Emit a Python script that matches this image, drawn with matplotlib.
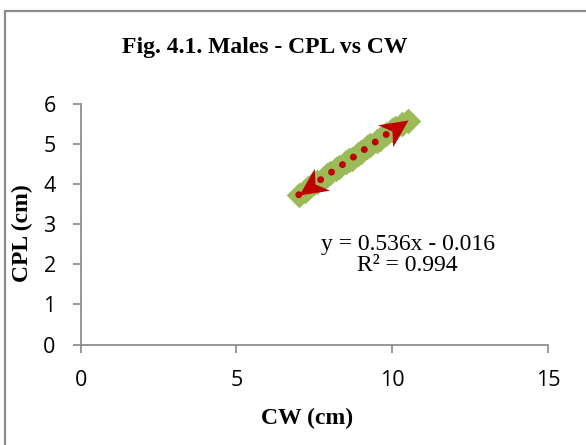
import numpy as np
import matplotlib.pyplot as plt
from matplotlib.patches import Rectangle
from matplotlib.path import Path
from matplotlib.markers import MarkerStyle
from matplotlib.transforms import Affine2D

# --- data ---
cw = [7.0, 7.2, 7.3, 7.5, 7.6, 7.8, 7.9, 8.0, 8.2, 8.3, 8.5, 8.6, 8.7,
      8.9, 9.0, 9.2, 9.3, 9.5, 9.6, 9.8, 10.0, 10.1, 10.3, 10.5]
cpl = [3.72, 3.84, 3.90, 4.02, 4.06, 4.16, 4.22, 4.27, 4.38, 4.44, 4.55, 4.60, 4.64,
       4.76, 4.81, 4.92, 4.98, 5.08, 5.13, 5.24, 5.34, 5.40, 5.50, 5.58]
slope, intercept = 0.536, -0.016
r2 = 0.994

xticks = [0, 5, 10, 15]
yticks = [0, 1, 2, 3, 4, 5, 6]

axis_grey = "#868686"
green = "#9BBB59"
red = "#C00000"
serif = "Liberation Serif"
sans = "Open Sans"

fig = plt.figure(figsize=(5.86, 4.45), dpi=100)
ax = fig.add_axes([0.1377, 0.2258, 0.7975, 0.5405])
ax.set_xlim(0, 15)
ax.set_ylim(0, 6)

# outer chart frame
fig.patches.append(Rectangle((5 / 586, -0.1), 1.2, 1.1 - 11 / 445,
                             transform=fig.transFigure, fill=False,
                             edgecolor="#8c8c8c", linewidth=1.6))

ax.scatter(cw, cpl, marker="D", s=170, color=green, linewidths=0, zorder=2)

# linear trendline, arrowheads at both ends
x_fit = np.array([min(cw), max(cw)])
y_fit = slope * x_fit + intercept
ax.plot(x_fit, y_fit, linestyle=(0, (0.01, 1.9)), dash_capstyle="round",
        color=red, linewidth=5, zorder=3)

# notched ("stealth") head, tip at origin pointing to +x
head = Path([(0, 0), (-1, 0.48), (-0.7, 0), (-1, -0.48), (0, 0)],
            [Path.MOVETO, Path.LINETO, Path.LINETO, Path.LINETO, Path.CLOSEPOLY])
p0, p1 = ax.transData.transform([(x_fit[0], y_fit[0]), (x_fit[1], y_fit[1])])
ang = np.degrees(np.arctan2(p1[1] - p0[1], p1[0] - p0[0]))
for i, a in [(0, ang + 180), (1, ang)]:
    ms = MarkerStyle(head, transform=Affine2D().rotate_deg(a))
    ax.plot(x_fit[i], y_fit[i], marker=ms, markersize=40, color=red,
            markeredgewidth=0, linestyle="none", zorder=4)

ax.text(10.49, 2.23, f"y = {slope:.3f}x - {abs(intercept):.3f}\nR² = {r2:.3f}",
        ha="center", va="center", fontsize=17, family=serif, linespacing=1.0)

ax.set_xticks(xticks)
ax.set_yticks(yticks)
for s in ["top", "right"]:
    ax.spines[s].set_visible(False)
for s in ["left", "bottom"]:
    ax.spines[s].set_color(axis_grey)
    ax.spines[s].set_linewidth(1.2)
ax.tick_params(direction="out", length=6, color=axis_grey, width=1.2,
               labelsize=15.5)
ax.tick_params(axis="x", pad=12)
ax.tick_params(axis="y", pad=12)
for lab in ax.get_xticklabels() + ax.get_yticklabels():
    lab.set_fontfamily(sans)

fig.text(307 / 586, 1 - 418 / 445, "CW (cm)", ha="center", va="center",
         fontsize=17, fontweight="bold", family=serif)
fig.text(22 / 586, 1 - 233 / 445, "CPL (cm)", ha="center", va="center",
         rotation=90, fontsize=17, fontweight="bold", family=serif)
fig.text(265 / 586, 1 - 48 / 445, "Fig. 4.1. Males - CPL vs CW", ha="center",
         va="center", fontsize=17, fontweight="bold", family=serif)

fig.savefig("out.png", dpi=100)
